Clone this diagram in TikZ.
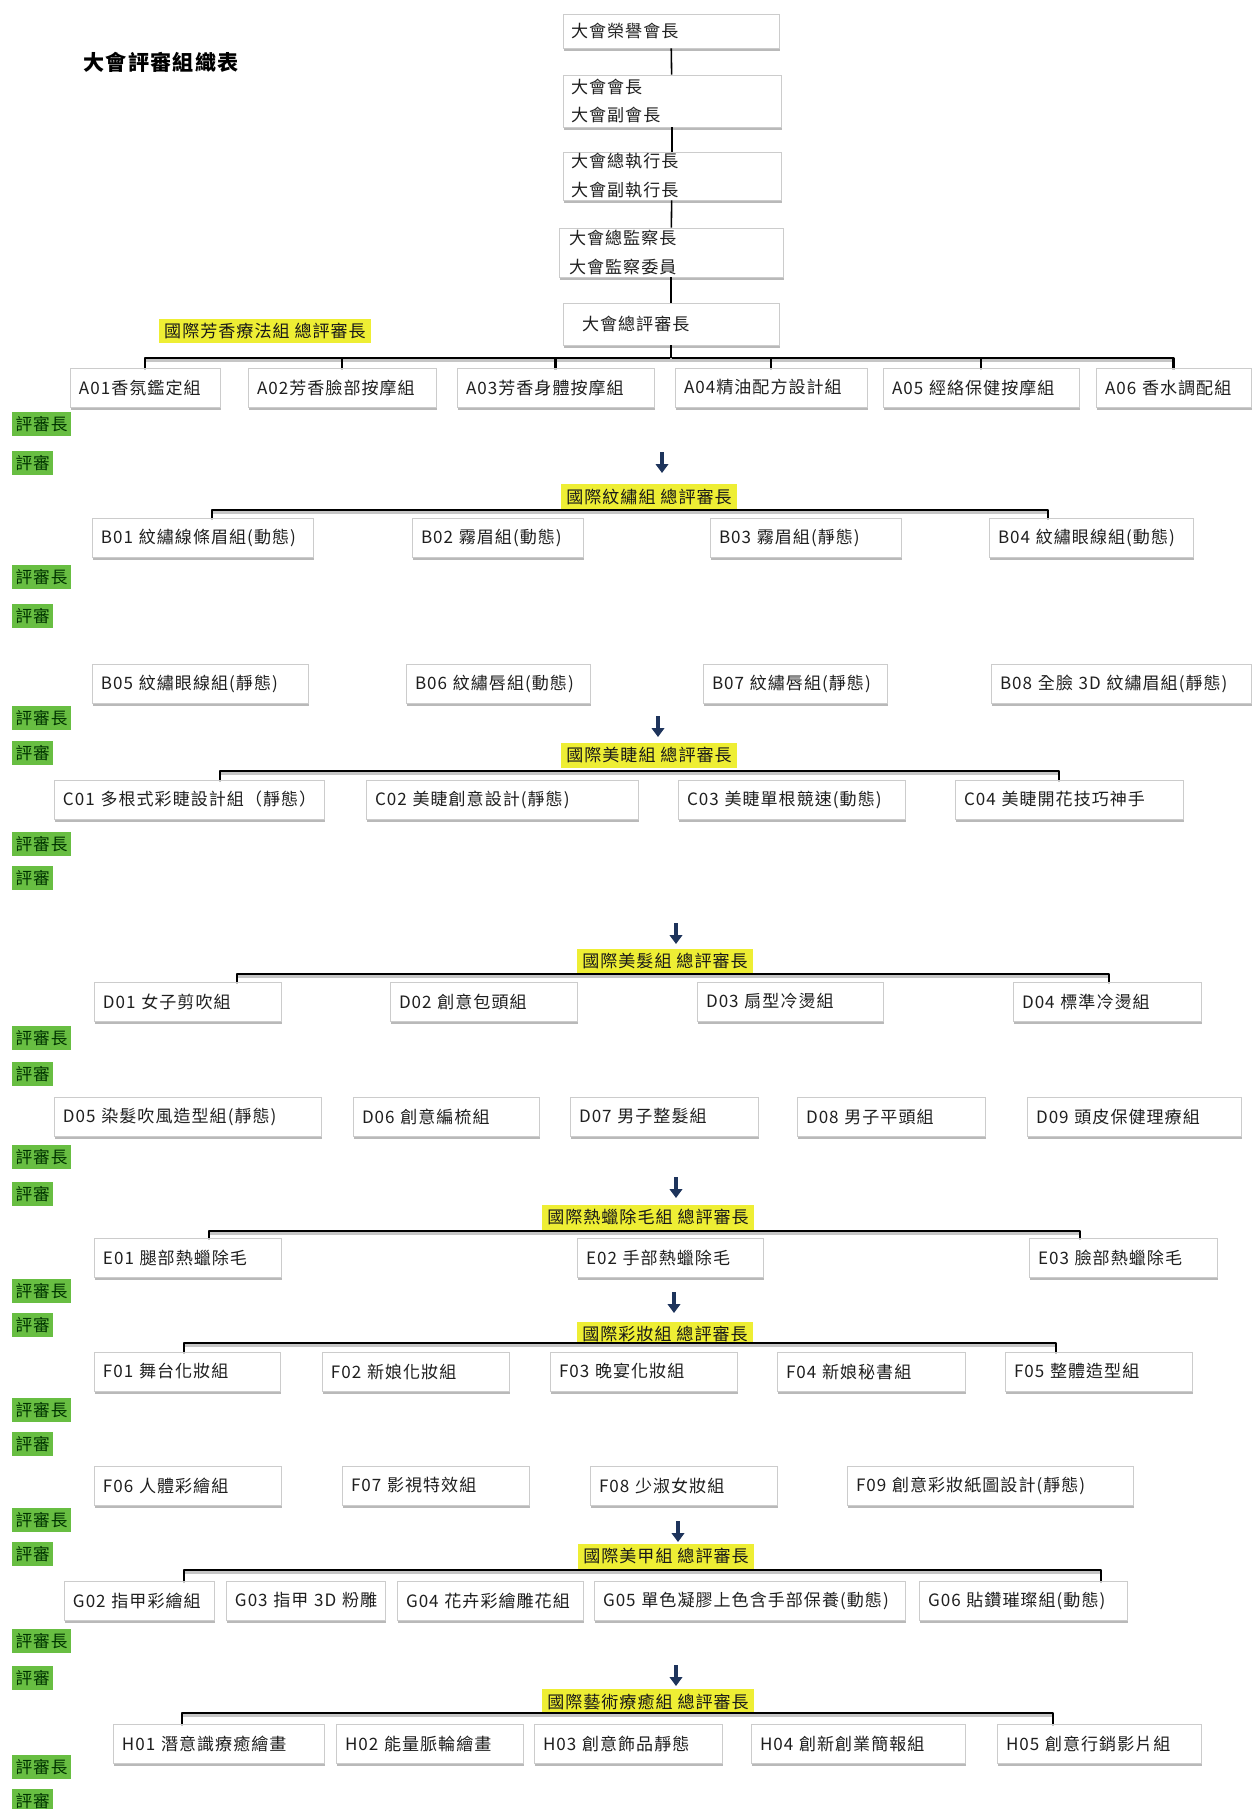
\documentclass[tikz,border=0pt]{standalone}
\usepackage{fontspec}
\setmainfont{Noto Sans CJK TC}[LetterSpace=6]
\usetikzlibrary{arrows.meta}
\usetikzlibrary{shadows}

\definecolor{hilite}{RGB}{238,238,52}
\definecolor{judgegreen}{RGB}{104,190,66}
\definecolor{arrownavy}{RGB}{30,52,92}

\tikzset{
  grp/.style={draw=gray!40, fill=white,
    drop shadow={shadow xshift=0.3pt, shadow yshift=-1.6pt, fill=gray!55, opacity=1},
    inner xsep=0.18cm, inner ysep=0pt, align=left,
    font=\fontsize{9.7}{11}\selectfont, text=black!88},
  hilabel/.style={fill=hilite, inner xsep=3pt, inner ysep=2.6pt,
    font=\fontsize{9.7}{11}\selectfont, text=black!90},
  judge/.style={fill=judgegreen, anchor=north west, inner xsep=1.8pt, inner ysep=2.4pt,
    font=\fontsize{9.5}{11}\selectfont, text=green!20!black},
  bar/.style={line width=1.6pt, line join=round,
    preaction={draw=gray!45, line width=1.6pt, transform canvas={yshift=-1.4pt}}},
  link/.style={line width=0.9pt},
  downarrow/.style={arrownavy, line width=2.2pt, -{Triangle[width=7pt,length=5pt]}},
}

\begin{document}
\begin{tikzpicture}[x=0.02cm, y=-0.02cm]
  \useasboundingbox (0,0) rectangle (1253,1809);

  \node[font=\fontsize{12}{14}\selectfont\bfseries] (title) at (161,62) {大會評審組織表};

  % top chain
  \node[grp, text width=4.0cm, minimum height=0.68cm, inner xsep=0.16cm] (h1) at (671,31) {大會榮譽會長};
  \node[grp, text width=4.04cm, minimum height=1.04cm, inner xsep=0.16cm,
        font=\fontsize{9.7}{16.5}\selectfont] (h2) at (672,101) {大會會長\\大會副會長};
  \node[grp, text width=4.04cm, minimum height=0.96cm, inner xsep=0.16cm,
        font=\fontsize{9.7}{16.5}\selectfont] (h3) at (672,176) {大會總執行長\\大會副執行長};
  \node[grp, text width=4.08cm, minimum height=0.98cm, inner xsep=0.2cm,
        font=\fontsize{9.7}{16.5}\selectfont] (h4) at (671,252.5) {大會總監察長\\大會監察委員};
  \node[grp, text width=3.56cm, minimum height=0.84cm, inner xsep=0.38cm] (h5) at (671,324) {大會總評審長};

  \draw[link] (h1) -- (h2);
  \draw[link] (h2) -- (h3);
  \draw[link] (h3) -- (h4);
  \draw[link] (h4) -- (h5);

  % yellow group heads
  \foreach \lab/\x/\y/\txt in {
    labA/265/331/{國際芳香療法組 總評審長},
    labB/649/497/{國際紋繡組 總評審長},
    labC/649/755/{國際美睫組 總評審長},
    labD/665/961/{國際美髮組 總評審長},
    labE/648/1217/{國際熱蠟除毛組 總評審長},
    labF/665/1334/{國際彩妝組 總評審長},
    labG/666/1556/{國際美甲組 總評審長},
    labH/648/1702/{國際藝術療癒組 總評審長}}{
    \node[hilabel] (\lab) at (\x,\y) {\txt};
  }

  % group boxes
  \foreach \id/\xl/\xr/\yc/\txt in {
    A01/70/220/387.5/{A01香氛鑑定組},
    A02/248/436/387.5/{A02芳香臉部按摩組},
    A03/457/654/387.5/{A03芳香身體按摩組},
    A04/675/867/387.5/{A04精油配方設計組},
    A05/883/1079/387.5/{A05 經絡保健按摩組},
    A06/1096/1251/387.5/{A06 香水調配組},
    B01/92/313/537.5/{B01 紋繡線條眉組(動態)},
    B02/412/583/537.5/{B02 霧眉組(動態)},
    B03/710/901/537.5/{B03 霧眉組(靜態)},
    B04/989/1193/537.5/{B04 紋繡眼線組(動態)},
    B05/92/308/683.5/{B05 紋繡眼線組(靜態)},
    B06/406/590/683.5/{B06 紋繡唇組(動態)},
    B07/703/887/683.5/{B07 紋繡唇組(靜態)},
    B08/991/1251/683.5/{B08 全臉 3D 紋繡眉組(靜態)},
    C01/54/324/799.5/{C01 多根式彩睫設計組（靜態）},
    C02/366/638/799.5/{C02 美睫創意設計(靜態)},
    C03/678/905/799.5/{C03 美睫單根競速(動態)},
    C04/955/1183/799.5/{C04 美睫開花技巧神手},
    D01/94/281/1001.5/{D01 女子剪吹組},
    D02/390/577/1001.5/{D02 創意包頭組},
    D03/697/883/1001.5/{D03 扇型冷燙組},
    D04/1013/1201/1001.5/{D04 標準冷燙組},
    D05/54/321/1116.5/{D05 染髮吹風造型組(靜態)},
    D06/353/539/1116.5/{D06 創意編梳組},
    D07/570/758/1116.5/{D07 男子整髮組},
    D08/797/985/1116.5/{D08 男子平頭組},
    D09/1027/1241/1116.5/{D09 頭皮保健理療組},
    E01/94/281/1257.5/{E01 腿部熱蠟除毛},
    E02/577/763/1257.5/{E02 手部熱蠟除毛},
    E03/1029/1217/1257.5/{E03 臉部熱蠟除毛},
    F01/94/280/1371.5/{F01 舞台化妝組},
    F02/322/509/1371.5/{F02 新娘化妝組},
    F03/550/737/1371.5/{F03 晚宴化妝組},
    F04/777/965/1371.5/{F04 新娘秘書組},
    F05/1005/1192/1371.5/{F05 整體造型組},
    F06/94/281/1485.5/{F06 人體彩繪組},
    F07/342/529/1485.5/{F07 影視特效組},
    F08/590/777/1485.5/{F08 少淑女妝組},
    F09/847/1133/1485.5/{F09 創意彩妝紙圖設計(靜態)},
    G02/64/214/1600.5/{G02 指甲彩繪組},
    G03/226/385/1600.5/{G03 指甲 3D 粉雕},
    G04/397/583/1600.5/{G04 花卉彩繪雕花組},
    G05/594/905/1600.5/{G05 單色凝膠上色含手部保養(動態)},
    G06/919/1127/1600.5/{G06 貼鑽璀璨組(動態)},
    H01/113/324/1743.5/{H01 潛意識療癒繪畫},
    H02/336/523/1743.5/{H02 能量脈輪繪畫},
    H03/534/722/1743.5/{H03 創意飾品靜態},
    H04/751/965/1743.5/{H04 創新創業簡報組},
    H05/997/1201/1743.5/{H05 創意行銷影片組}}{
    \pgfmathsetmacro\xc{(\xl+\xr)/2}
    \pgfmathsetmacro\tw{(\xr-\xl)*0.02-0.36}
    \node[grp, text width=\tw cm, minimum height=0.78cm] (\id) at (\xc,\yc) {\mbox{\txt}};
  }

  % A brackets: every box hangs from the bar
  \coordinate (bAl) at (145,358);
  \coordinate (bAr) at (1175,358);
  \draw[bar] (A01.north) -- (A01.north |- bAl) -- (A06.north |- bAr) -- (A06.north);
  \foreach \id in {A02,A03,A04,A05}{
    \draw[bar] (\id.north |- bAl) -- (\id.north);
  }
  \draw[bar] (h5.south) -- (h5.south |- bAl);

  % other brackets only reach the two outer boxes
  \foreach \g/\xa/\xb/\yb/\first/\last in {
    B/212/1048/510/B01/B04,
    C/220/1059/771/C01/C04,
    D/237/1109/974/D01/D04,
    E/209/1080/1231/E01/E03,
    F/184/1056/1343/F01/F05,
    G/184/1101/1570/G02/G06,
    H/182/1053/1713/H01/H05}{
    \coordinate (b\g l) at (\xa,\yb);
    \coordinate (b\g r) at (\xb,\yb);
    \draw[bar] (b\g l |- \first.north) -- (b\g l) -- (b\g r) -- (b\g r |- \last.north);
  }

  % arrows into each group
  \foreach \g/\x/\y in {B/662/452, C/658/716, D/676/923, E/676/1177, F/674/1292, G/678/1521, H/676/1665}{
    \coordinate (ar\g) at (\x,\y);
    \draw[downarrow] (ar\g) -- ++(0,21);
  }

  % green judge tags
  \foreach \ya/\yb [count=\n] in {412/451, 565/604, 706/741, 832/866, 1026/1062, 1145/1182,
                       1279/1313, 1398/1432, 1508/1542, 1629/1666, 1755/1789}{
    \node[judge] (chief\n) at (12,\ya) {評審長};
    \node[judge] (judge\n) at (12,\yb) {評審};
  }
\end{tikzpicture}
\end{document}
